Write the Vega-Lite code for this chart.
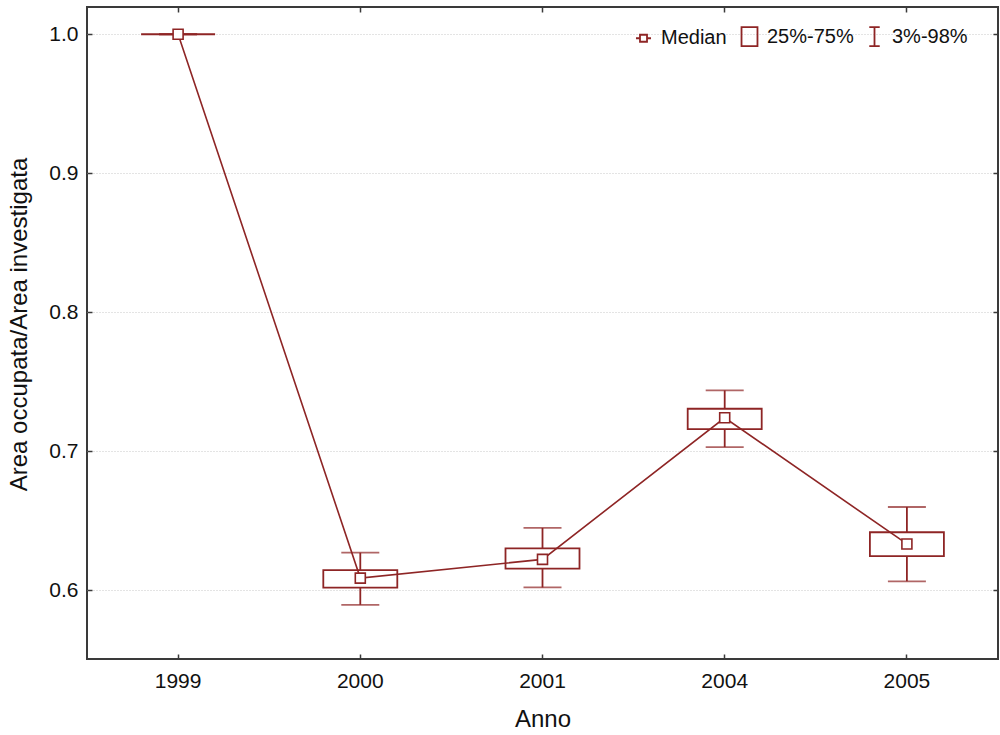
{
  "$schema": "https://vega.github.io/schema/vega-lite/v6.json",
  "autosize": "none",
  "width": 911,
  "height": 652,
  "padding": {"left": 87, "top": 7, "right": 2, "bottom": 76},
  "background": "white",
  "config": {
    "font": "Liberation Sans",
    "view": {"stroke": "#3a3a3a", "strokeWidth": 2},
    "axis": {"labelFont": "Liberation Sans", "titleFont": "Liberation Sans", "labelColor": "#111", "titleColor": "#111", "titleFontWeight": "normal"}
  },
  "datasets": {
    "stats": [
      {"year": "1999", "med": 1.0, "q1": 1.0, "q3": 1.0, "lo": 1.0, "hi": 1.0},
      {"year": "2000", "med": 0.6086, "q1": 0.6018, "q3": 0.6143, "lo": 0.5894, "hi": 0.6269},
      {"year": "2001", "med": 0.6221, "q1": 0.6154, "q3": 0.6300, "lo": 0.6019, "hi": 0.6447},
      {"year": "2004", "med": 0.7240, "q1": 0.7158, "q3": 0.7305, "lo": 0.7029, "hi": 0.7437},
      {"year": "2005", "med": 0.6332, "q1": 0.6245, "q3": 0.6416, "lo": 0.6063, "hi": 0.6598}
    ],
    "legend": [
      {"k": "Median"},
      {"k": "25%-75%"},
      {"k": "3%-98%"}
    ]
  },
  "data": {"name": "stats"},
  "resolve": {"axis": {"x": "independent", "y": "independent"}},
  "layer": [
    {
      "mark": {"type": "rule", "color": "#8e2525", "strokeWidth": 1.8},
      "encoding": {
        "x": {"field": "year", "type": "ordinal", "sort": null,
          "scale": {"type": "band", "paddingInner": 0, "paddingOuter": 0},
          "axis": {"orient": "bottom", "title": "Anno", "titleFontSize": 24, "titlePadding": 16, "labelFontSize": 21, "labelPadding": 16, "tickSize": -5, "tickColor": "#3a3a3a", "tickWidth": 1.5, "domain": false, "labelAngle": 0, "grid": false}},
        "y": {"field": "lo", "type": "quantitative",
          "scale": {"domain": [0.5504, 1.0196], "nice": false, "zero": false},
          "axis": {"orient": "left", "title": "Area occupata/Area investigata", "titleFontSize": 24, "titlePadding": 17, "titleY": 317, "labelFontSize": 21, "labelPadding": 14, "tickSize": -5, "tickColor": "#3a3a3a", "tickWidth": 1.5, "domain": false, "values": [0.6, 0.7, 0.8, 0.9, 1.0], "format": ".1f", "grid": true, "gridColor": "#c8c8c8", "gridDash": [1, 2], "gridWidth": 1}},
        "y2": {"field": "hi"}
      }
    },
    {
      "mark": {"type": "bar", "width": 74, "fill": "white", "stroke": "#8e2525", "strokeWidth": 1.8},
      "encoding": {
        "x": {"field": "year", "type": "ordinal", "sort": null,
          "axis": {"orient": "top", "title": null, "labels": false, "tickSize": -5, "tickColor": "#3a3a3a", "tickWidth": 1.5, "domain": false, "grid": false}},
        "y": {"field": "q1", "type": "quantitative",
          "axis": {"orient": "right", "title": null, "labels": false, "tickSize": -5, "tickColor": "#3a3a3a", "tickWidth": 1.5, "domain": false, "grid": false, "values": [0.6, 0.7, 0.8, 0.9, 1.0]}},
        "y2": {"field": "q3"}
      }
    },
    {
      "mark": {"type": "tick", "color": "#8e2525", "size": 38, "thickness": 1.8},
      "encoding": {
        "x": {"field": "year", "type": "ordinal", "sort": null, "axis": null},
        "y": {"field": "lo", "type": "quantitative", "axis": null}
      }
    },
    {
      "mark": {"type": "tick", "color": "#8e2525", "size": 38, "thickness": 1.8},
      "encoding": {
        "x": {"field": "year", "type": "ordinal", "sort": null, "axis": null},
        "y": {"field": "hi", "type": "quantitative", "axis": null}
      }
    },
    {
      "mark": {"type": "line", "color": "#8e2525", "strokeWidth": 1.6},
      "encoding": {
        "x": {"field": "year", "type": "ordinal", "sort": null, "axis": null},
        "y": {"field": "med", "type": "quantitative", "axis": null}
      }
    },
    {
      "mark": {"type": "point", "shape": "square", "size": 100, "filled": true, "fill": "white", "stroke": "#8e2525", "strokeWidth": 1.6, "opacity": 1},
      "encoding": {
        "x": {"field": "year", "type": "ordinal", "sort": null, "axis": null},
        "y": {"field": "med", "type": "quantitative", "axis": null}
      }
    },
    {
      "data": {"name": "legend"},
      "mark": {"type": "point", "opacity": 0, "size": 361},
      "encoding": {
        "shape": {"field": "k", "type": "nominal",
          "scale": {"domain": ["Median", "25%-75%", "3%-98%"],
            "range": ["M-0.79,0H-0.37M0.37,0H0.79M-0.37,-0.37H0.37V0.37H-0.37Z", "M-0.84,-1H0.84V1H-0.84Z", "M-0.55,-1H0.55M0,-1V1M-0.55,1H0.55"]},
          "legend": {"title": null, "orient": "none", "legendX": 546, "legendY": 19, "direction": "horizontal", "padding": 0,
            "symbolSize": 361, "symbolOpacity": 1, "symbolFillColor": "white", "symbolStrokeColor": "#8e2525", "symbolStrokeWidth": 1.8,
            "labelFontSize": 20, "labelFont": "Liberation Sans", "labelColor": "#111", "labelOffset": 7, "columnPadding": 10}}
      }
    }
  ]
}
